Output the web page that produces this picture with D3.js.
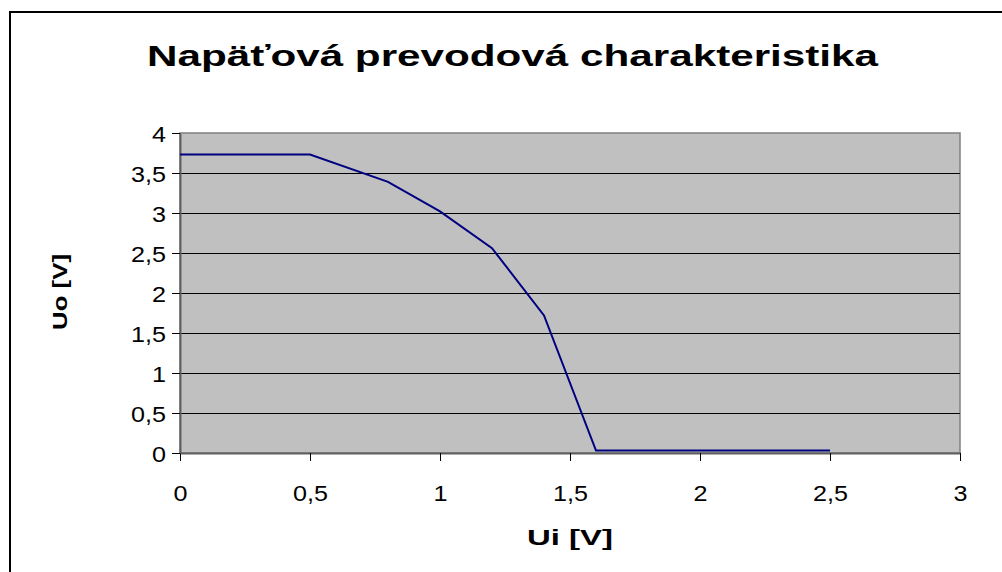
<!DOCTYPE html>
<html><head><meta charset="utf-8">
<script src="https://cdn.jsdelivr.net/npm/d3@7"></script>
<style>
html,body{margin:0;padding:0;background:#fff;}
svg{display:block;}
text{font-family:"Liberation Sans",Arial,sans-serif;}
</style></head>
<body>
<svg id="c" width="1002" height="572"></svg>
<script>
// ---- data ----
const title = "Napäťová prevodová charakteristika";
const xLabel = "Ui [V]";
const yLabel = "Uo [V]";
const uiValues = [0, 0.5, 0.8, 1.0, 1.2, 1.4, 1.6, 2.5];
const uoValues = [3.73, 3.73, 3.39, 3.02, 2.56, 1.72, 0.03, 0.03];
const xTicks = [0, 0.5, 1, 1.5, 2, 2.5, 3];
const yTicks = [0, 0.5, 1, 1.5, 2, 2.5, 3, 3.5, 4];

// ---- layout ----
const svg = d3.select("#c");
const L = 180, R = 960, T = 133, B = 453;
const x = d3.scaleLinear().domain([0, 3]).range([L, R]);
const y = d3.scaleLinear().domain([0, 4]).range([B, T]);
const fmt = d => String(d).replace(".", ",");

// outer border
svg.append("rect").attr("x", 10).attr("y", 12).attr("width", 1010).attr("height", 600)
  .attr("fill", "none").attr("stroke", "#000").attr("stroke-width", 2);

// plot background
svg.append("rect").attr("x", L).attr("y", T).attr("width", R - L).attr("height", B - T)
  .attr("fill", "#c0c0c0").attr("stroke", "#808080").attr("stroke-width", 1.5);

// gridlines
svg.append("g").selectAll("line").data(yTicks.filter(d => d > 0 && d < 4)).join("line")
  .attr("x1", L).attr("x2", R).attr("y1", d => y(d)).attr("y2", d => y(d))
  .attr("stroke", "#000").attr("stroke-width", 1).attr("shape-rendering", "crispEdges");

// axes
const xAxis = svg.append("g").attr("transform", `translate(0,${B})`)
  .call(d3.axisBottom(x).tickValues(xTicks).tickFormat(fmt).tickSize(8).tickSizeOuter(0));
const yAxis = svg.append("g").attr("transform", `translate(${L},0)`)
  .call(d3.axisLeft(y).tickValues(yTicks).tickFormat(fmt).tickSize(8).tickSizeOuter(0));
[xAxis, yAxis].forEach(a => {
  a.select(".domain").attr("stroke", "#606060").attr("stroke-width", 2);
  a.selectAll(".tick line").attr("stroke", "#000");
  a.selectAll("text").attr("fill", "#000").attr("font-size", 21.5);
});
xAxis.selectAll("text").attr("dy", 0).attr("y", 48)
  .attr("transform", "scale(1.17,1)");
yAxis.selectAll("text").attr("dy", 0).attr("x", -12).attr("y", 8)
  .attr("transform", "scale(1.17,1)");

// line
svg.append("path").datum(uiValues.map((u, i) => [u, uoValues[i]]))
  .attr("fill", "none").attr("stroke", "#000080").attr("stroke-width", 2)
  .attr("d", d3.line().x(d => x(d[0])).y(d => y(d[1])));

// title
svg.append("text").attr("x", 512.5).attr("y", 66).attr("text-anchor", "middle")
  .attr("font-size", 30).attr("font-weight", "bold")
  .attr("textLength", 731).attr("lengthAdjust", "spacingAndGlyphs").text(title);

// axis labels
svg.append("text").attr("x", 570).attr("y", 545).attr("text-anchor", "middle")
  .attr("font-size", 22).attr("font-weight", "bold")
  .attr("textLength", 86).attr("lengthAdjust", "spacingAndGlyphs").text(xLabel);
svg.append("text").attr("transform", "translate(67,292) rotate(-90)").attr("text-anchor", "middle")
  .attr("font-size", 21).attr("font-weight", "bold")
  .attr("textLength", 76).attr("lengthAdjust", "spacingAndGlyphs").text(yLabel);
</script>
</body></html>
